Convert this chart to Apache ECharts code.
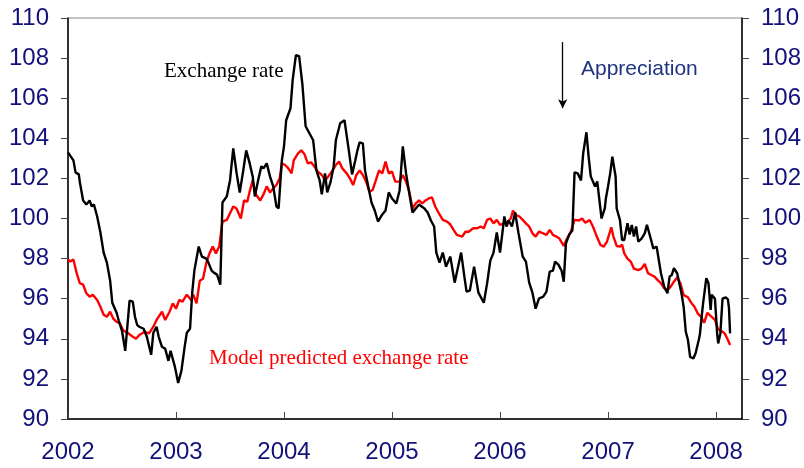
<!DOCTYPE html>
<html>
<head>
<meta charset="utf-8">
<script src="https://cdn.jsdelivr.net/npm/echarts@6/dist/echarts.min.js"></script>
<style>
  html, body { margin: 0; padding: 0; background: #fff; }
  #chart { width: 804px; height: 468px; }
</style>
</head>
<body>
<div id="chart"></div>
<script>
  // tick labels
  var yearTicks = [2002, 2003, 2004, 2005, 2006, 2007, 2008];

  // actual exchange rate (decimal year, index)
  var rateYears = [2002.00, 2002.05, 2002.07, 2002.10, 2002.11, 2002.14, 2002.17, 2002.20, 2002.22, 2002.24,
    2002.27, 2002.30, 2002.33, 2002.36, 2002.39, 2002.41, 2002.45, 2002.47, 2002.50, 2002.53,
    2002.57, 2002.60, 2002.62, 2002.64, 2002.66, 2002.70, 2002.73, 2002.77, 2002.79, 2002.82,
    2002.84, 2002.87, 2002.90, 2002.93, 2002.95, 2002.99, 2003.02, 2003.05, 2003.08, 2003.10,
    2003.13, 2003.15, 2003.17, 2003.21, 2003.24, 2003.28, 2003.30, 2003.33, 2003.35, 2003.38,
    2003.41, 2003.43, 2003.47, 2003.50, 2003.53, 2003.56, 2003.59, 2003.62, 2003.65, 2003.68,
    2003.71, 2003.73, 2003.76, 2003.79, 2003.81, 2003.84, 2003.87, 2003.90, 2003.93, 2003.95,
    2003.98, 2004.00, 2004.02, 2004.06, 2004.08, 2004.11, 2004.14, 2004.17, 2004.20, 2004.23,
    2004.27, 2004.30, 2004.33, 2004.35, 2004.38, 2004.40, 2004.43, 2004.46, 2004.48, 2004.52,
    2004.56, 2004.57, 2004.60, 2004.63, 2004.66, 2004.68, 2004.70, 2004.73, 2004.75, 2004.78,
    2004.81, 2004.84, 2004.87, 2004.91, 2004.94, 2004.97, 2005.00, 2005.04, 2005.07, 2005.10,
    2005.13, 2005.16, 2005.19, 2005.22, 2005.25, 2005.30, 2005.33, 2005.36, 2005.39, 2005.41,
    2005.44, 2005.47, 2005.50, 2005.54, 2005.58, 2005.64, 2005.67, 2005.69, 2005.72, 2005.76,
    2005.80, 2005.85, 2005.88, 2005.91, 2005.94, 2005.97, 2006.00, 2006.04, 2006.06, 2006.08,
    2006.11, 2006.14, 2006.17, 2006.21, 2006.24, 2006.27, 2006.30, 2006.33, 2006.36, 2006.40,
    2006.43, 2006.46, 2006.49, 2006.51, 2006.54, 2006.57, 2006.59, 2006.61, 2006.64, 2006.67,
    2006.69, 2006.72, 2006.75, 2006.77, 2006.80, 2006.82, 2006.84, 2006.88, 2006.90, 2006.94,
    2006.97, 2006.98, 2007.00, 2007.02, 2007.04, 2007.07, 2007.08, 2007.11, 2007.13, 2007.15,
    2007.18, 2007.20, 2007.22, 2007.24, 2007.26, 2007.28, 2007.31, 2007.34, 2007.36, 2007.39,
    2007.42, 2007.45, 2007.47, 2007.49, 2007.52, 2007.55, 2007.57, 2007.59, 2007.61, 2007.64,
    2007.66, 2007.68, 2007.70, 2007.72, 2007.74, 2007.76, 2007.79, 2007.81, 2007.84, 2007.85,
    2007.88, 2007.91, 2007.93, 2007.95, 2007.96, 2007.99, 2008.01, 2008.02, 2008.04, 2008.06,
    2008.09, 2008.11, 2008.12, 2008.13];
  var rateValues = [103.3, 102.9, 102.3, 102.2, 101.8, 100.9, 100.7, 100.9, 100.6, 100.7,
    100.1, 99.3, 98.3, 97.8, 96.9, 95.8, 95.3, 94.9, 94.4, 93.4,
    95.9, 95.85, 95.1, 94.7, 94.6, 94.5, 94.1, 93.2, 94.3, 94.6,
    94.1, 93.6, 93.5, 92.9, 93.4, 92.6, 91.8, 92.4, 93.6, 94.3,
    94.5, 96.3, 97.4, 98.6, 98.1, 98.0, 97.8, 97.4, 97.3, 97.2,
    96.7, 100.8, 101.1, 101.9, 103.5, 102.3, 101.3, 102.3, 103.4, 102.8,
    102.1, 101.1, 101.9, 102.6, 102.5, 102.75, 102.1, 101.6, 100.6, 100.5,
    102.9, 103.6, 104.9, 105.5, 106.9, 108.15, 108.1, 106.7, 104.6, 104.3,
    103.9, 102.4, 101.9, 101.2, 102.25, 101.3, 101.8, 102.6, 103.9, 104.75,
    104.9, 104.85, 103.4, 102.2, 102.9, 103.4, 103.8, 103.75, 102.4, 101.6,
    100.8, 100.4, 99.85, 100.2, 100.4, 101.3, 101.0, 100.75, 101.4, 103.6,
    102.25, 101.25, 100.3, 100.5, 100.7, 100.5, 100.3, 99.9, 99.6, 98.3,
    97.8, 98.3, 97.6, 98.1, 96.8, 98.3, 97.1, 96.35, 96.4, 97.6,
    96.3, 95.8, 96.75, 97.9, 98.3, 99.3, 98.3, 100.1, 99.6, 99.9,
    99.6, 100.3, 99.3, 98.1, 97.85, 96.8, 96.3, 95.5, 96.0, 96.1,
    96.35, 97.35, 97.4, 97.85, 97.7, 97.4, 96.85, 98.75, 99.2, 99.4,
    102.3, 102.25, 101.9, 103.25, 104.3, 103.1, 102.1, 101.6, 101.85, 100.0,
    100.5, 101.0, 101.6, 102.25, 103.08, 102.1, 100.5, 99.93, 98.93, 98.93,
    99.76, 99.2, 99.68, 99.1, 99.6, 98.85, 99.0, 99.26, 99.68, 99.1,
    98.5, 98.6, 97.93, 97.27, 96.6, 96.27, 97.1, 97.18, 97.52, 97.27,
    96.77, 96.27, 95.6, 94.35, 93.94, 93.1, 93.02, 93.27, 93.94, 94.2,
    95.77, 97.02, 96.77, 95.44, 96.2, 96.0, 94.27, 93.77, 94.27, 96.0,
    96.07, 95.97, 95.52, 94.27];

  // model predicted exchange rate
  var modelYears = [2002.00, 2002.02, 2002.05, 2002.08, 2002.11, 2002.14, 2002.17, 2002.20, 2002.23, 2002.27,
    2002.30, 2002.33, 2002.36, 2002.39, 2002.42, 2002.45, 2002.48, 2002.51, 2002.56, 2002.59,
    2002.63, 2002.66, 2002.71, 2002.75, 2002.79, 2002.82, 2002.87, 2002.90, 2002.94, 2002.97,
    2003.00, 2003.03, 2003.06, 2003.10, 2003.14, 2003.16, 2003.19, 2003.22, 2003.25, 2003.28,
    2003.31, 2003.34, 2003.37, 2003.40, 2003.43, 2003.47, 2003.50, 2003.53, 2003.56, 2003.60,
    2003.63, 2003.66, 2003.68, 2003.71, 2003.74, 2003.78, 2003.81, 2003.84, 2003.87, 2003.90,
    2003.93, 2003.96, 2003.98, 2004.01, 2004.04, 2004.07, 2004.09, 2004.13, 2004.16, 2004.19,
    2004.22, 2004.25, 2004.28, 2004.31, 2004.35, 2004.38, 2004.41, 2004.45, 2004.48, 2004.51,
    2004.54, 2004.58, 2004.61, 2004.64, 2004.67, 2004.70, 2004.73, 2004.76, 2004.79, 2004.82,
    2004.85, 2004.88, 2004.91, 2004.94, 2004.97, 2005.00, 2005.03, 2005.07, 2005.10, 2005.13,
    2005.16, 2005.19, 2005.22, 2005.25, 2005.28, 2005.31, 2005.34, 2005.37, 2005.40, 2005.44,
    2005.47, 2005.51, 2005.54, 2005.57, 2005.60, 2005.65, 2005.68, 2005.71, 2005.75, 2005.79,
    2005.82, 2005.85, 2005.88, 2005.91, 2005.94, 2005.97, 2006.00, 2006.04, 2006.07, 2006.10,
    2006.12, 2006.15, 2006.18, 2006.21, 2006.24, 2006.27, 2006.30, 2006.33, 2006.36, 2006.40,
    2006.43, 2006.46, 2006.49, 2006.52, 2006.55, 2006.59, 2006.62, 2006.65, 2006.69, 2006.73,
    2006.76, 2006.79, 2006.83, 2006.86, 2006.89, 2006.93, 2006.96, 2006.99, 2007.03, 2007.05,
    2007.08, 2007.11, 2007.13, 2007.15, 2007.18, 2007.21, 2007.24, 2007.28, 2007.31, 2007.34,
    2007.37, 2007.40, 2007.43, 2007.46, 2007.49, 2007.52, 2007.55, 2007.58, 2007.61, 2007.64,
    2007.67, 2007.70, 2007.74, 2007.77, 2007.80, 2007.83, 2007.86, 2007.89, 2007.92, 2007.95,
    2007.99, 2008.02, 2008.04, 2008.08, 2008.11, 2008.13];
  var modelValues = [97.96, 97.85, 97.96, 97.27, 96.77, 96.7, 96.27, 96.1, 96.2, 95.94,
    95.6, 95.2, 95.1, 95.35, 95.0, 94.85, 94.77, 94.43, 94.27, 94.14,
    94.0, 94.19, 94.35, 94.27, 94.6, 94.94, 95.35, 94.94, 95.35, 95.77,
    95.5, 95.94, 95.85, 96.2, 95.94, 96.2, 95.77, 96.9, 97.0, 97.77,
    98.26, 98.6, 98.26, 98.6, 99.84, 99.93, 100.26, 100.6, 100.5, 100.0,
    100.9, 100.84, 101.3, 101.9, 101.2, 100.9, 101.2, 101.6, 101.3, 101.5,
    101.67, 102.0, 102.75, 102.67, 102.5, 102.25, 102.9, 103.25, 103.4, 103.2,
    102.75, 102.8, 102.6, 102.35, 102.17, 101.9, 102.1, 102.4, 102.67, 102.84,
    102.5, 102.25, 102.0, 101.67, 102.17, 102.4, 102.17, 101.84, 101.34, 101.42,
    101.9, 102.4, 102.25, 102.84, 102.25, 102.34, 101.84, 101.84, 102.17, 101.84,
    101.34, 100.5, 100.75, 100.9, 100.75, 100.9, 101.0, 101.05, 100.6, 100.2,
    99.93, 99.84, 99.7, 99.43, 99.18, 99.1, 99.34, 99.34, 99.51, 99.51,
    99.6, 99.51, 99.93, 100.0, 99.76, 99.93, 99.68, 99.76, 99.84, 100.0,
    100.39, 100.17, 100.1, 99.93, 99.76, 99.6, 99.26, 99.1, 99.34, 99.26,
    99.18, 99.43, 99.18, 99.1, 99.0, 98.63, 99.0, 99.26, 99.93, 99.9,
    100.0, 99.79, 99.93, 99.6, 99.18, 98.68, 98.6, 98.84, 99.56, 99.1,
    98.63, 98.6, 98.7, 98.26, 98.0, 97.85, 97.5, 97.43, 97.5, 97.73,
    97.27, 97.18, 97.1, 96.93, 96.77, 96.52, 96.43, 96.6, 96.85, 97.06,
    96.77, 96.18, 96.07, 95.8, 95.6, 95.27, 95.1, 94.8, 95.3, 95.14,
    94.94, 94.47, 94.43, 94.27, 93.94, 93.69];

  function pairs(xs, ys) {
    return xs.map(function (x, i) { return [x, ys[i]]; });
  }

  var navy = '#12127a';
  var chart = echarts.init(document.getElementById('chart'));

  var yAxisBase = {
    type: 'value',
    min: 90,
    max: 110,
    interval: 2,
    axisLine: {show: true, lineStyle: {color: '#000', width: 1.5}},
    axisTick: {show: true, inside: false, length: 7, lineStyle: {color: '#444', width: 1}},
    axisLabel: {color: navy, fontSize: 24, fontFamily: 'Liberation Sans, Arial, sans-serif', margin: 19},
    splitLine: {show: false}
  };

  var option = {
    backgroundColor: '#ffffff',
    animation: false,
    grid: {
      left: 68, right: 60, top: 18, bottom: 49,
      show: true, borderColor: '#888', borderWidth: 1
    },
    xAxis: {
      type: 'value',
      min: 2002,
      max: 2008.24,
      interval: 1,
      axisLine: {show: true, lineStyle: {color: '#000', width: 1.5}},
      axisTick: {show: true, inside: true, length: 7, lineStyle: {color: '#444', width: 1}},
      axisLabel: {
        color: navy, fontSize: 24, fontFamily: 'Liberation Sans, Arial, sans-serif', margin: 21,
        showMaxLabel: false,
        formatter: function (v) { return yearTicks.indexOf(v) >= 0 ? String(v) : ''; }
      },
      splitLine: {show: false}
    },
    yAxis: [
      Object.assign({}, yAxisBase, {position: 'left'}),
      Object.assign({}, yAxisBase, {position: 'right'})
    ],
    series: [
      {
        name: 'Model predicted exchange rate',
        type: 'line',
        data: pairs(modelYears, modelValues),
        showSymbol: false,
        lineStyle: {color: '#ff0000', width: 2.4},
        z: 2
      },
      {
        name: 'Exchange rate',
        type: 'line',
        data: pairs(rateYears, rateValues),
        showSymbol: false,
        lineStyle: {color: '#000000', width: 2.4},
        z: 3,
        markLine: {
          silent: true,
          symbol: ['none', 'arrow'],
          symbolSize: [7, 9],
          label: {show: false},
          lineStyle: {color: '#000', width: 1.3, type: 'solid'},
          data: [[{coord: [2006.58, 108.8]}, {coord: [2006.58, 105.5]}]]
        }
      }
    ],
    graphic: [
      {type: 'text', left: 164, top: 61, style: {text: 'Exchange rate', fill: '#000', font: '21px "Liberation Serif", "Times New Roman", serif'}},
      {type: 'text', left: 209, top: 348, style: {text: 'Model predicted exchange rate', fill: '#ff0000', font: '21px "Liberation Serif", "Times New Roman", serif'}},
      {type: 'text', left: 581, top: 59, style: {text: 'Appreciation', fill: '#1f3382', font: '21px "Liberation Sans", Arial, sans-serif'}}
    ]
  };
  chart.setOption(option);
</script>
</body>
</html>
